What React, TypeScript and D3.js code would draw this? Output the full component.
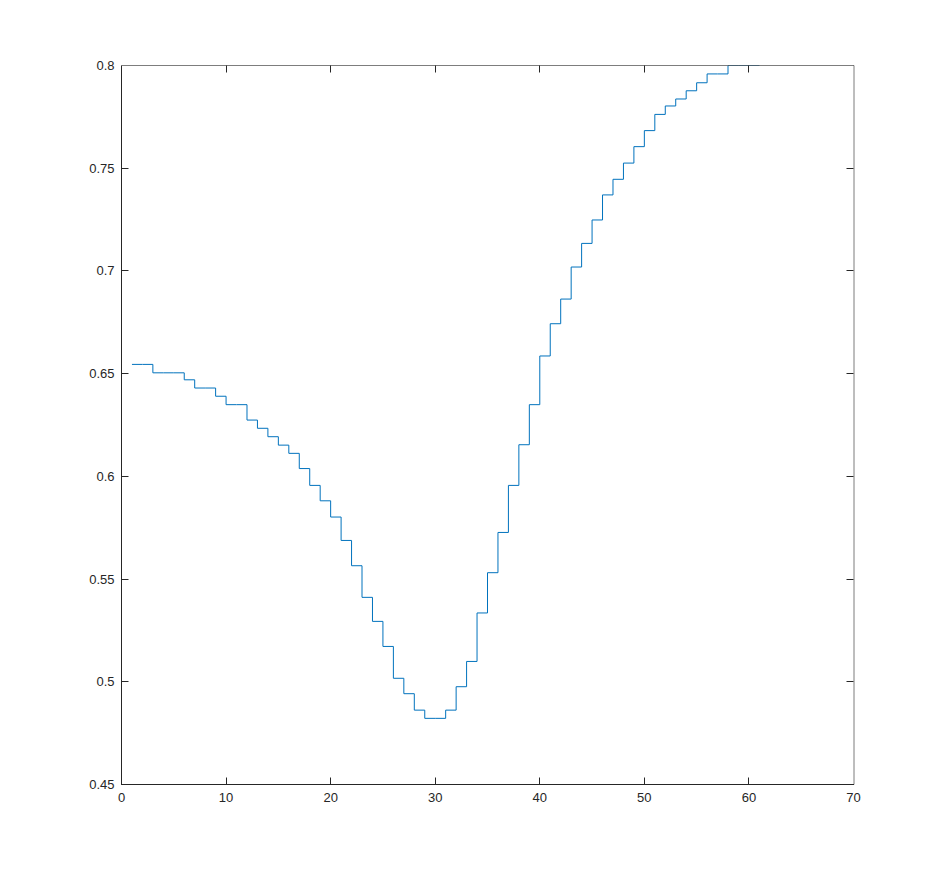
import React, { useEffect, useRef } from "react";
import * as d3 from "d3";

const xValues: number[] = d3.range(1, 62);
const yValues: number[] = [
  0.6545, 0.6545, 0.6504, 0.6504, 0.6504, 0.6470, 0.6430, 0.6430, 0.6390, 0.6349,
  0.6349, 0.6274, 0.6234, 0.6193, 0.6152, 0.6112, 0.6038, 0.5956, 0.5881, 0.5802,
  0.5688, 0.5565, 0.5411, 0.5294, 0.5172, 0.5017, 0.4942, 0.4862, 0.4822, 0.4822,
  0.4862, 0.4976, 0.5099, 0.5335, 0.5531, 0.5727, 0.5956, 0.6154, 0.6349, 0.6586,
  0.6743, 0.6863, 0.7019, 0.7134, 0.7248, 0.7370, 0.7446, 0.7525, 0.7605, 0.7683,
  0.7762, 0.7803, 0.7837, 0.7877, 0.7916, 0.7959, 0.7959, 0.8, 0.8, 0.8,
  0.8,
];
const xTicks: number[] = [0, 10, 20, 30, 40, 50, 60, 70];
const yTicks: number[] = [0.45, 0.5, 0.55, 0.6, 0.65, 0.7, 0.75, 0.8];
const yTickLabels: string[] = ["0.45", "0.5", "0.55", "0.6", "0.65", "0.7", "0.75", "0.8"];

const W = 942;
const H = 882;
const L = 121.5;
const R = 853.5;
const T = 65.5;
const B = 784.5;

export default function App() {
  const ref = useRef<SVGSVGElement>(null);

  useEffect(() => {
    const svg = d3.select(ref.current);
    svg.selectAll("*").remove();

    const x = d3.scaleLinear().domain([0, 70]).range([L, R]);
    const y = d3.scaleLinear().domain([0.45, 0.8]).range([B, T]);
    const axisColor = "#262626";
    const font = "'Liberation Sans', Arial, sans-serif";

    svg.append("rect").attr("width", W).attr("height", H).attr("fill", "#ffffff");

    svg
      .append("defs")
      .append("clipPath")
      .attr("id", "plotclip")
      .append("rect")
      .attr("x", L)
      .attr("y", T)
      .attr("width", R - L)
      .attr("height", B - T);

    const data = xValues.map((xv, i) => [xv, yValues[i]] as [number, number]);
    const line = d3
      .line<[number, number]>()
      .x((d) => x(d[0]))
      .y((d) => y(d[1]))
      .curve(d3.curveStepAfter);

    svg
      .append("path")
      .attr("clip-path", "url(#plotclip)")
      .attr("d", line(data) as string)
      .attr("fill", "none")
      .attr("stroke", "#0072BD")
      .attr("stroke-width", 1);

    const g = svg.append("g");
    // box
    g.append("line").attr("x1", L).attr("x2", L).attr("y1", T).attr("y2", B + 0.5).attr("stroke", axisColor);
    g.append("line").attr("x1", L - 0.5).attr("x2", R + 0.5).attr("y1", B).attr("y2", B).attr("stroke", axisColor);
    g.append("line").attr("x1", L).attr("x2", R + 0.5).attr("y1", T).attr("y2", T).attr("stroke", axisColor).attr("stroke-opacity", 0.6);
    g.append("line").attr("x1", R + 0.5).attr("x2", R + 0.5).attr("y1", T).attr("y2", B).attr("stroke", axisColor).attr("stroke-opacity", 0.6);

    const tickLen = 7;
    xTicks.forEach((t) => {
      const px = Math.round(x(t) - 0.5) + 0.5;
      if (t !== 0 && t !== 70) {
        g.append("line").attr("x1", px).attr("x2", px).attr("y1", B).attr("y2", B - tickLen).attr("stroke", axisColor);
        g.append("line").attr("x1", px).attr("x2", px).attr("y1", T).attr("y2", T + tickLen).attr("stroke", axisColor);
      }
      g.append("text")
        .attr("x", x(t))
        .attr("y", B + 17)
        .attr("text-anchor", "middle")
        .attr("font-family", font)
        .attr("font-size", 13)
        .attr("fill", axisColor)
        .text(String(t));
    });

    yTicks.forEach((t, i) => {
      const py = Math.round(y(t) - 0.5) + 0.5;
      if (i !== 0 && i !== yTicks.length - 1) {
        g.append("line").attr("x1", L).attr("x2", L + tickLen).attr("y1", py).attr("y2", py).attr("stroke", axisColor);
        g.append("line").attr("x1", R).attr("x2", R - tickLen).attr("y1", py).attr("y2", py).attr("stroke", axisColor);
      }
      g.append("text")
        .attr("x", L - 7)
        .attr("y", y(t) + 4.5)
        .attr("text-anchor", "end")
        .attr("font-family", font)
        .attr("font-size", 13)
        .attr("fill", axisColor)
        .text(yTickLabels[i]);
    });
  }, []);

  return (
    <svg
      ref={ref}
      width={W}
      height={H}
      style={{ position: "absolute", left: 0, top: 0, display: "block" }}
    />
  );
}
